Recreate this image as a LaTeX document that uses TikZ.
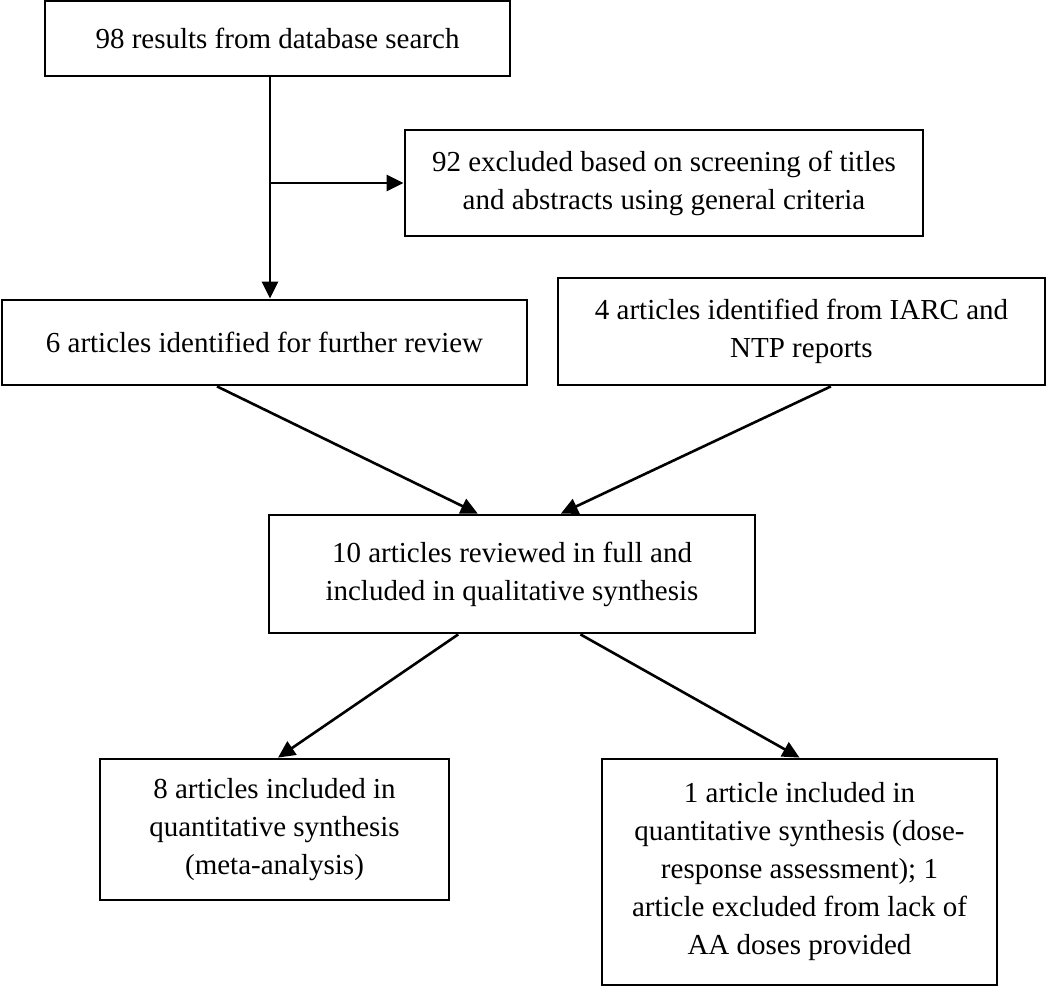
\documentclass[tikz,border=0pt]{standalone}
\usepackage{fontspec}
\setmainfont{Liberation Serif}
\usetikzlibrary{arrows.meta,calc}
\begin{document}
\begin{tikzpicture}[x=1pt,y=-1pt,
  box/.style={draw,line width=2.8pt,inner sep=0pt,align=center,
    font=\fontsize{29}{38}\selectfont},
  arr/.style={line width=2.6pt,-{Triangle[length=17pt,width=16pt]}}]
\useasboundingbox (0,0) rectangle (1050,987);
\node[box,minimum width=465pt,minimum height=75pt] (b1) at (277.5,38.5) {98 results from database search};
\node[box,minimum width=518pt,minimum height=106pt] (b2) at (664,183) {92 excluded based on screening of titles\\and abstracts using general criteria};
\node[box,minimum width=525pt,minimum height=85pt] (b3) at (264.5,342.5) {6 articles identified for further review};
\node[box,minimum width=487pt,minimum height=107pt] (b4) at (801.5,331.5) {4 articles identified from IARC and\\NTP reports};
\node[box,minimum width=486pt,minimum height=118pt] (b5) at (512,574) {10 articles reviewed in full and\\included in qualitative synthesis};
\node[box,minimum width=349pt,minimum height=141pt] (b6) at (274.5,829.5) {8 articles included in\\quantitative synthesis\\(meta-analysis)};
\node[box,minimum width=395pt,minimum height=226pt] (b7) at (799.5,872) {1 article included in\\quantitative synthesis (dose-\\response assessment); 1\\article excluded from lack of\\AA doses provided};
\coordinate (j) at (270,183);
\draw[arr] (b1.south -| j) -- (b3.north -| j);
\draw[arr] (j) -- (j -| b2.west);
\draw[arr] ($(b3.south west)!0.41!(b3.south east)$) -- ($(b5.north west)!0.43!(b5.north east)$);
\draw[arr] ($(b4.south west)!0.56!(b4.south east)$) -- ($(b5.north west)!0.60!(b5.north east)$);
\draw[arr] ($(b5.south west)!0.39!(b5.south east)$) -- ($(b6.north west)!0.51!(b6.north east)$);
\draw[arr] ($(b5.south west)!0.64!(b5.south east)$) -- ($(b7.north west)!0.50!(b7.north east)$);
\end{tikzpicture}
\end{document}
